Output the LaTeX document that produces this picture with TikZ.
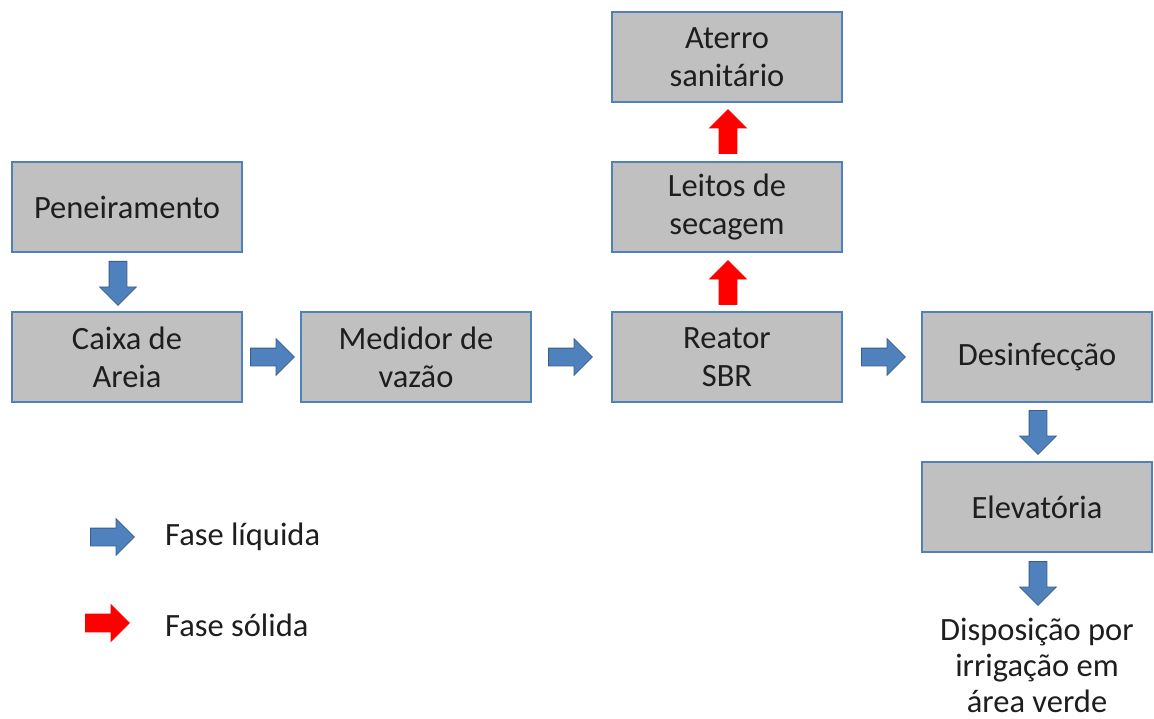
\documentclass[tikz,border=0pt]{standalone}
\usepackage{fontspec}
\setmainfont{Carlito}
\usetikzlibrary{shapes.arrows}
\definecolor{boxfill}{RGB}{192,192,192}
\definecolor{boxline}{RGB}{79,129,189}
\definecolor{arrblue}{RGB}{79,129,189}
\definecolor{arrblueline}{RGB}{56,93,138}
\definecolor{arrred}{RGB}{255,0,0}
\definecolor{txt}{RGB}{30,30,30}
\tikzset{
  stagebox/.style={draw=boxline, line width=1.8pt, fill=boxfill, minimum width=230pt, minimum height=90pt, align=center, inner sep=0pt, text=txt, font=\fontsize{32.5pt}{38pt}\selectfont},
  blockarrow/.style={single arrow, anchor=tail, minimum height=44pt, minimum width=36pt, text height=8.5pt, text depth=8.5pt, text width=0pt, single arrow head extend=9.5pt, single arrow tip angle=90, inner sep=0pt, line width=0.8pt},
  liq/.style={blockarrow, fill=arrblue, draw=arrblueline},
  sol/.style={blockarrow, fill=arrred, draw=arrred},
  plain/.style={align=center, inner sep=0pt, text=txt, font=\fontsize{32.5pt}{36pt}\selectfont}
}
\begin{document}
\begin{tikzpicture}[x=1pt,y=-1pt]
\useasboundingbox (0,0) rectangle (1154,719);
\node[stagebox] (pen) at (127,207) {Peneiramento};
\node[stagebox] (cai) at (127,357) {Caixa de\\Areia};
\node[stagebox] (med) at (416,357) {Medidor de\\vazão};
\node[stagebox] (rea) at (727,357) {Reator\\SBR};
\node[stagebox] (lei) at (727,207) {Leitos de\\secagem};
\node[stagebox] (ate) at (727,57) {Aterro\\sanitário};
\node[stagebox] (des) at (1037,357) {Desinfecção};
\node[stagebox] (ele) at (1037,507) {Elevatória};
\node[plain] (dis) at (1037,665) {Disposição por\\irrigação em\\área verde};
% liquid phase arrows
\node[liq, rotate=-90] (a1) at (118,261) {};
\node[liq] (a2) at (250,357) {};
\node[liq] (a3) at (548,357) {};
\node[liq] (a4) at (861,357) {};
\node[liq, rotate=-90] (a5) at (1038,410) {};
\node[liq, rotate=-90] (a6) at (1038,561) {};
% solid phase arrows
\node[sol, rotate=90] (s1) at (728,305) {};
\node[sol, rotate=90] (s2) at (728,154) {};
% legend
\node[liq] (lg1) at (90,537) {};
\node[plain, anchor=west] (lt1) at (165,537) {Fase líquida};
\node[sol] (lg2) at (85,623) {};
\node[plain, anchor=west] (lt2) at (165,625) {Fase sólida};
\end{tikzpicture}
\end{document}
